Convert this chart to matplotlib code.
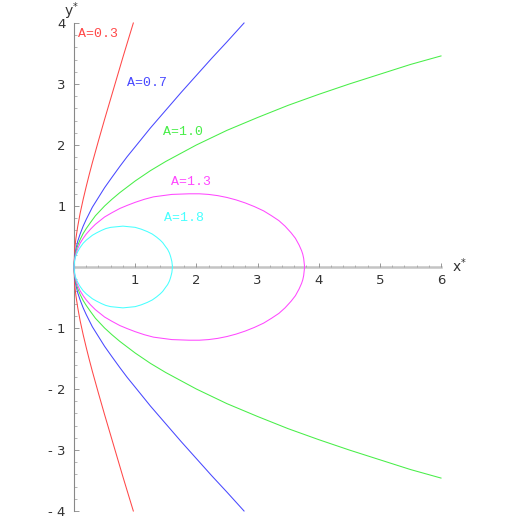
import matplotlib.pyplot as plt
import numpy as np
from matplotlib.ticker import FixedLocator

# upper halves; curves are mirror images about y*=0
red_x = [0, 0.01, 0.02, 0.03, 0.06, 0.1, 0.15, 0.2, 0.25, 0.3, 0.4, 0.5, 0.6, 0.7, 0.8, 0.9, 0.97]
red_y = [0, 0.26, 0.37, 0.46, 0.66, 0.88, 1.11, 1.32, 1.52, 1.71, 2.07, 2.42, 2.76, 3.10, 3.44, 3.77, 4.0]

blue_x = [0, 0.01, 0.02, 0.03, 0.06, 0.1, 0.15, 0.2, 0.3, 0.4, 0.5, 0.62, 0.75, 0.87, 1.0,
          1.25, 1.5, 1.75, 2.0, 2.25, 2.5, 2.78]
blue_y = [0, 0.17, 0.24, 0.29, 0.42, 0.54, 0.67, 0.78, 0.98, 1.14, 1.30, 1.47, 1.65, 1.81, 1.97,
          2.28, 2.57, 2.86, 3.14, 3.42, 3.69, 4.0]

green_x = [0, 0.01, 0.02, 0.03, 0.06, 0.1, 0.15, 0.2, 0.27, 0.35, 0.5, 0.62, 0.75, 1.0, 1.25,
           1.5, 2.0, 2.5, 3.0, 3.5, 4.0, 4.5, 5.0, 5.5, 6.0]
green_y = [0, 0.14, 0.20, 0.25, 0.35, 0.45, 0.55, 0.63, 0.73, 0.84, 1.0, 1.11, 1.22, 1.41, 1.58,
           1.73, 2.0, 2.24, 2.45, 2.65, 2.83, 3.0, 3.16, 3.32, 3.46]

magenta_x = [0, 0.01, 0.02, 0.03, 0.06, 0.1, 0.15, 0.2, 0.27, 0.35, 0.5, 0.62, 0.75, 0.87, 1.0,
             1.15, 1.3, 1.45, 1.6, 1.88, 2.05, 2.2, 2.35, 2.5, 2.65, 2.8, 2.95, 3.1, 3.23, 3.35,
             3.45, 3.55, 3.62, 3.68, 3.72, 3.74, 3.755, 3.77]
magenta_y = [0, 0.12, 0.17, 0.21, 0.30, 0.39, 0.47, 0.54, 0.62, 0.70, 0.82, 0.89, 0.96, 1.01, 1.06,
             1.11, 1.15, 1.17, 1.19, 1.20, 1.20, 1.19, 1.17, 1.14, 1.10, 1.05, 0.99, 0.92, 0.84, 0.76,
             0.67, 0.56, 0.47, 0.36, 0.27, 0.21, 0.14, 0]

cyan_x = [0, 0.01, 0.02, 0.03, 0.06, 0.1, 0.15, 0.2, 0.25, 0.3, 0.37, 0.45, 0.52, 0.6, 0.7, 0.8,
          0.9, 1.0, 1.1, 1.2, 1.28, 1.35, 1.41, 1.45, 1.5, 1.53, 1.56, 1.58, 1.6, 1.61]
cyan_y = [0, 0.10, 0.15, 0.18, 0.25, 0.32, 0.39, 0.44, 0.48, 0.52, 0.56, 0.60, 0.63, 0.65, 0.66, 0.67,
          0.66, 0.65, 0.62, 0.58, 0.54, 0.49, 0.44, 0.40, 0.33, 0.29, 0.23, 0.17, 0.09, 0]

labels = ["A=0.3", "A=0.7", "A=1.0", "A=1.3", "A=1.8"]
label_x = [0.065, 0.86, 1.46, 1.58, 1.475]
label_y = [3.82, 3.02, 2.21, 1.40, 0.81]
colors = ["#ff4848", "#4848ff", "#48ee48", "#ff48ff", "#48ffff"]

x_ticks = [1, 2, 3, 4, 5, 6]
y_ticks = [-4, -3, -2, -1, 1, 2, 3, 4]
y_tick_labels = ["- 4", "- 3", "- 2", "- 1", "1", "2", "3", "4"]


def mirror(xs, ys):
    xs = np.asarray(xs, dtype=float)
    ys = np.asarray(ys, dtype=float)
    return np.concatenate([xs[::-1], xs[1:]]), np.concatenate([ys[::-1], -ys[1:]])


fig = plt.figure(figsize=(5.18, 5.18), dpi=100)
ax = fig.add_axes([74 / 518, 7 / 518, 367 / 518, 488 / 518])
ax.set_xlim(0, 6)
ax.set_ylim(-4, 4)

curves = [(red_x, red_y), (blue_x, blue_y), (green_x, green_y),
          (magenta_x, magenta_y), (cyan_x, cyan_y)]
for (cx, cy), color in zip(curves, colors):
    mx, my = mirror(cx, cy)
    ax.plot(mx, my, color=color, lw=0.75, clip_on=False, zorder=3)

for text, tx, ty, color in zip(labels, label_x, label_y, colors):
    ax.text(tx, ty, text, color=color, fontsize=9.5, family="Liberation Mono",
            ha="left", va="center")

# axes through the origin
for side in ["top", "right"]:
    ax.spines[side].set_visible(False)
ax.spines["left"].set_position(("data", 0))
ax.spines["bottom"].set_position(("data", 0))
ax.spines["left"].set_color("#888888")
ax.spines["left"].set_linewidth(0.8)
ax.spines["bottom"].set_color("#c4c4c4")
ax.spines["bottom"].set_linewidth(1.8)
ax.spines["bottom"].set_zorder(1)

ax.set_xticks(x_ticks)
ax.set_yticks(y_ticks)
ax.set_yticklabels(y_tick_labels)
ax.xaxis.set_minor_locator(FixedLocator([v / 5 for v in range(31) if v % 5]))
ax.yaxis.set_minor_locator(FixedLocator([v / 5 - 4 for v in range(41) if v % 5]))

ax.tick_params(axis="x", which="major", direction="in", length=3, width=0.6,
               color="#888888", labelsize=9.5, labelcolor="#333333", pad=5)
ax.tick_params(axis="x", which="minor", direction="in", length=1.8, width=0.5,
               color="#999999")
ax.tick_params(axis="y", which="major", direction="in", length=3.5, width=0.6,
               color="#888888", labelsize=9.5, labelcolor="#333333", pad=6)
ax.tick_params(axis="y", which="minor", direction="in", length=2, width=0.5,
               color="#999999")

ax.text(-0.16, 4.2, r"y$^{*}$", fontsize=10, color="#333333", ha="left", va="center")
ax.text(6.18, 0.02, r"x$^{*}$", fontsize=10, color="#333333", ha="left", va="center")

fig.savefig("out.png", dpi=100)
